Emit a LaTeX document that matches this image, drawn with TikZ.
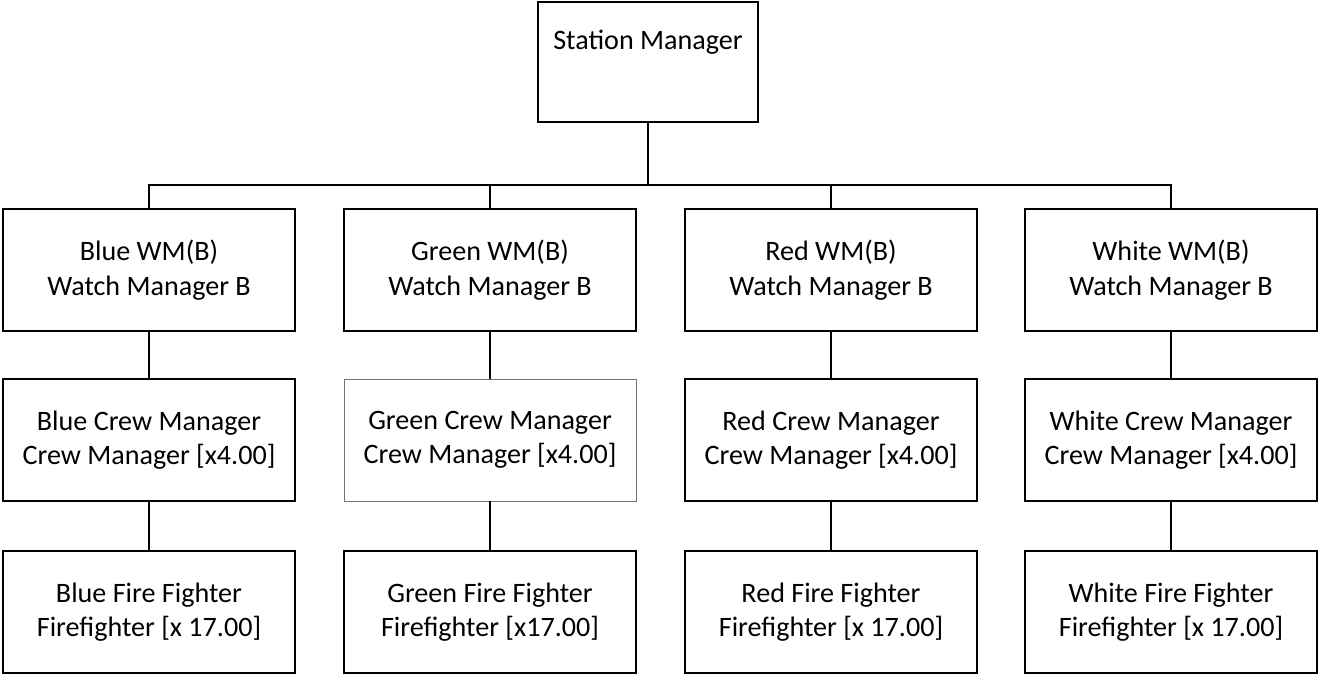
\documentclass[tikz,border=0pt]{standalone}
\usepackage{fontspec}
\setmainfont{Carlito}

\begin{document}
\begin{tikzpicture}
  [x=0.02cm,y=-0.02cm,
   every node/.style={draw,line width=1.1pt,align=center,inner sep=0pt,
     font=\fontsize{16}{19.5}\selectfont,minimum width=5.84cm,minimum height=2.44cm},
   faint/.style={draw=black!55,line width=0.5pt}]
  \useasboundingbox (0,0) rectangle (1320,674);

  \node (sm) at (648,62) [minimum width=4.4cm,minimum height=2.4cm] {Station Manager\\\strut};
  \coordinate (bus) at (648,185);

  \node (w1) at (149,270) {Blue WM(B)\\Watch Manager B};
  \node (w2) at (490,270) {Green WM(B)\\Watch Manager B};
  \node (w3) at (831,270) {Red WM(B)\\Watch Manager B};
  \node (w4) at (1171,270) {White WM(B)\\Watch Manager B};

  \node (c1) at (149,440) {Blue Crew Manager\\Crew Manager [x4.00]};
  \node (c2) at (490,440) [faint] {Green Crew Manager\\Crew Manager [x4.00]};
  \node (c3) at (831,440) {Red Crew Manager\\Crew Manager [x4.00]};
  \node (c4) at (1171,440) {White Crew Manager\\Crew Manager [x4.00]};

  \node (f1) at (149,612) {Blue Fire Fighter\\Firefighter [x 17.00]};
  \node (f2) at (490,612) {Green Fire Fighter\\Firefighter [x17.00]};
  \node (f3) at (831,612) {Red Fire Fighter\\Firefighter [x 17.00]};
  \node (f4) at (1171,612) {White Fire Fighter\\Firefighter [x 17.00]};

  \foreach \c in {1,...,4}
    \draw[line width=1.1pt] (sm.south) |- (bus) -| (w\c.north);

  \foreach \from/\to in {w1/c1,w2/c2,w3/c3,w4/c4,c1/f1,c2/f2,c3/f3,c4/f4}
    \draw[line width=1.1pt] (\from) -- (\to);
\end{tikzpicture}
\end{document}
